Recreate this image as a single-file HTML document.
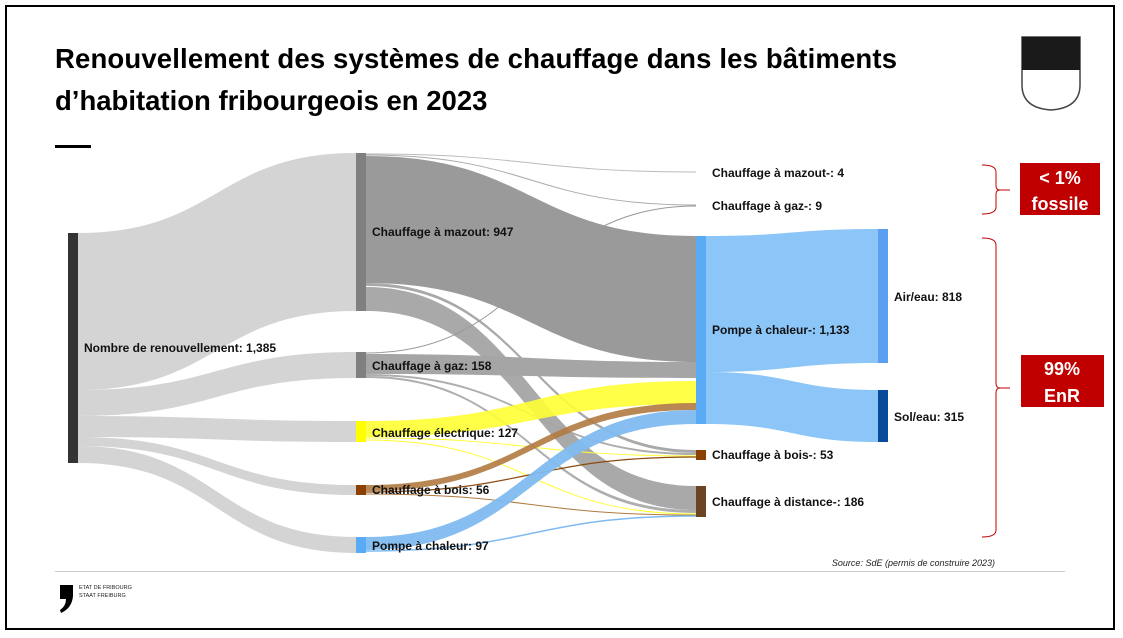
<!DOCTYPE html>
<html><head><meta charset="utf-8"><style>
body{margin:0;background:#fff;}
#f{position:absolute;left:5px;top:5px;width:1110px;height:625px;border:2px solid #000;box-sizing:border-box;overflow:hidden}
svg{position:absolute;left:0;top:0}
text{font-family:"Liberation Sans",sans-serif;}
.l{font-size:12px;font-weight:bold;fill:#111}
</style></head><body>
<div id="f"></div>
<svg width="1123" height="638" id="s">
<text x="55" y="68" font-size="27.5" font-weight="bold" fill="#000" textLength="842">Renouvellement des systèmes de chauffage dans les bâtiments</text>
<text x="55" y="110" font-size="27.5" font-weight="bold" fill="#000">d’habitation fribourgeois en 2023</text>
<rect x="55" y="145" width="36" height="3" fill="#000"/>
<path d="M1022 37 H1080 V85 Q1080 108 1051 110 Q1022 108 1022 85 Z" fill="#fff" stroke="#444" stroke-width="1.5"/>
<path d="M1022 37 H1080 V70 H1022 Z" fill="#1a1a1a"/>
<g id="flows"></g>
<rect x="68" y="233" width="10" height="230" fill="#333"/>
<rect x="356" y="153" width="10" height="158" fill="#808080"/>
<rect x="356" y="352" width="10" height="26" fill="#808080"/>
<rect x="356" y="421" width="10" height="21" fill="#ffff00"/>
<rect x="356" y="485" width="10" height="10" fill="#8b4000"/>
<rect x="356" y="537" width="10" height="16" fill="#5aabf5"/>
<rect x="696" y="236" width="10" height="188" fill="#5aabf5"/>
<rect x="696" y="450" width="10" height="10" fill="#8b4000"/>
<rect x="696" y="486" width="10" height="31" fill="#6b4423"/>
<rect x="878" y="229" width="10" height="134" fill="#5a9ff0"/>
<rect x="878" y="390" width="10" height="52" fill="#0a4a9a"/>
<text class="l" x="84" y="352">Nombre de renouvellement: 1,385</text>
<text class="l" x="372" y="236">Chauffage à mazout: 947</text>
<text class="l" x="372" y="370">Chauffage à gaz: 158</text>
<text class="l" x="372" y="437">Chauffage électrique: 127</text>
<text class="l" x="372" y="494">Chauffage à bois: 56</text>
<text class="l" x="372" y="550">Pompe à chaleur: 97</text>
<text class="l" x="712" y="177">Chauffage à mazout-: 4</text>
<text class="l" x="712" y="210">Chauffage à gaz-: 9</text>
<text class="l" x="712" y="334">Pompe à chaleur-: 1,133</text>
<text class="l" x="712" y="459">Chauffage à bois-: 53</text>
<text class="l" x="712" y="506">Chauffage à distance-: 186</text>
<text class="l" x="894" y="301">Air/eau: 818</text>
<text class="l" x="894" y="421">Sol/eau: 315</text>
<path d="M982 165 Q996 165 996 172 V186 Q996 190 1000 190 H1010 M1000 190 Q996 190 996 194 V207 Q996 214 982 214" fill="none" stroke="#c00000" stroke-width="1"/>
<path d="M982 238 Q996 238 996 245 V383 Q996 388 1000 388 H1010 M1000 388 Q996 388 996 393 V530 Q996 537 982 537" fill="none" stroke="#c00000" stroke-width="1"/>
<rect x="1020" y="163" width="80" height="52" fill="#c00000"/>
<text x="1060" y="184" font-size="18" font-weight="bold" fill="#fff" text-anchor="middle">&lt; 1%</text>
<text x="1060" y="210" font-size="18" font-weight="bold" fill="#fff" text-anchor="middle">fossile</text>
<rect x="1021" y="355" width="83" height="52" fill="#c00000"/>
<text x="1062" y="375" font-size="18" font-weight="bold" fill="#fff" text-anchor="middle">99%</text>
<text x="1062" y="402" font-size="18" font-weight="bold" fill="#fff" text-anchor="middle">EnR</text>
<text x="995" y="566" font-size="9" font-style="italic" fill="#222" text-anchor="end">Source: SdE (permis de construire 2023)</text>
<rect x="55" y="571" width="1010" height="1" fill="#ccc"/>
<path d="M60 585 H73 V596 Q72 608 61 613 L60 610 Q66 606 66 599 H60 Z" fill="#000"/>
<text x="79" y="589" font-size="5.5" fill="#222">ETAT DE FRIBOURG</text>
<text x="79" y="597" font-size="5.5" fill="#222">STAAT FREIBURG</text>
</svg>
<script>
var g=document.getElementById('flows');
function b(x0,a0,a1,x1,c0,c1,col,op){
 var m=(x0+x1)/2;
 var d='M'+x0+' '+a0+' C'+m+' '+a0+' '+m+' '+c0+' '+x1+' '+c0+' L'+x1+' '+c1+' C'+m+' '+c1+' '+m+' '+a1+' '+x0+' '+a1+' Z';
 var p=document.createElementNS('http://www.w3.org/2000/svg','path');
 p.setAttribute('d',d);p.setAttribute('fill',col);p.setAttribute('fill-opacity',op||1);g.appendChild(p);
}
function ln(x0,y0,x1,y1,col,w){
 var m=(x0+x1)/2;
 var p=document.createElementNS('http://www.w3.org/2000/svg','path');
 p.setAttribute('d','M'+x0+' '+y0+' C'+m+' '+y0+' '+m+' '+y1+' '+x1+' '+y1);
 p.setAttribute('stroke',col);p.setAttribute('stroke-width',w||1);p.setAttribute('fill','none');g.appendChild(p);
}
var LG='#d4d4d4';
b(78,233,390,356,153,311,LG);
b(78,390,416,356,352,378,LG);
b(78,416,437,356,421,442,LG);
b(78,437,446,356,485,495,LG);
b(78,446,463,356,537,553,LG);
var G='#9a9a9a';
ln(366,154,696,172,'#bbb',1);
ln(366,155,696,205,'#aaa',1);
b(366,156,283,696,236,362,G);
b(366,283,286,696,450,453,G,0.85);
b(366,287,311,696,486,510,G,0.85);
ln(366,353,696,206,'#999',1);
b(366,354,374,696,362,378,'#a5a5a5');
b(366,374,376,696,453,455,'#a5a5a5',0.9);
b(366,376,378,696,510,513,'#a5a5a5',0.9);
b(366,421,437,696,381,404,'#ffff33',0.9);
ln(366,438,696,456,'#ffff33',1);
ln(366,440,696,514,'#ffff33',1);
b(366,485,491,696,403,410,'#b07a40',0.9);
ln(366,492,696,457,'#8b4a10',1.2);
ln(366,494,696,515,'#b07a40',1);
b(366,537,550,696,410,424,'#7fbaf0',0.95);
ln(366,551,696,516,'#7fbaf0',1.5);
b(706,236,372,878,229,363,'#8cc5f7');
b(706,372,424,878,390,442,'#8cc5f7');
</script>
</body></html>
